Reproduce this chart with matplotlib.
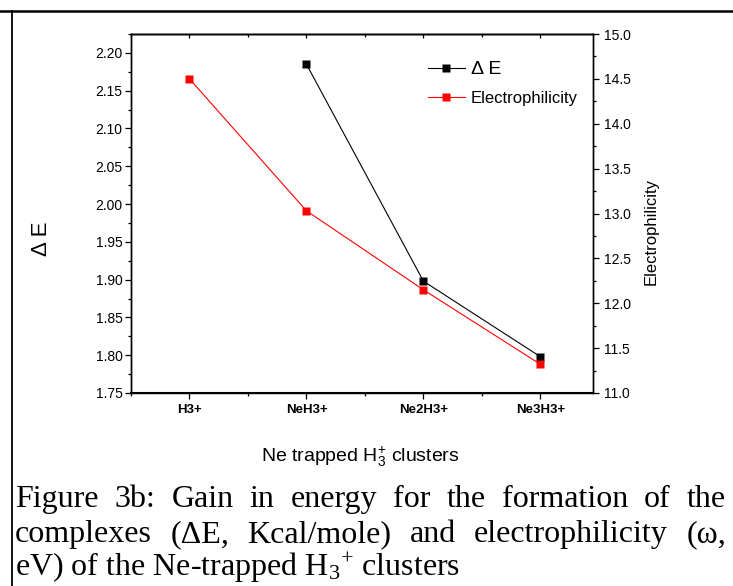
import numpy as np
import matplotlib
matplotlib.use('Agg')
import matplotlib.pyplot as plt
from matplotlib.lines import Line2D

plt.rcParams['font.family'] = ['Liberation Sans', 'DejaVu Sans']
plt.rcParams['mathtext.default'] = 'regular'

categories = ['H3+', 'NeH3+', 'Ne2H3+', 'Ne3H3+']
delta_e_cats = ['NeH3+', 'Ne2H3+', 'Ne3H3+']
delta_e = [2.185, 1.898, 1.798]
electro = [14.50, 13.03, 12.15, 11.32]

caption_lines = [
    "Figure 3b: Gain in energy for the formation of the",
    "complexes (\u0394E, Kcal/mole) and electrophilicity (\u03c9,",
    "eV) of the Ne-trapped H$_{3}$$^{+}$ clusters",
]

W, H = 733, 586
fig = plt.figure(figsize=(W / 100, H / 100), dpi=100)

# plot area in pixels
left, right, top, bottom = 131, 593, 34, 393
ax = fig.add_axes([left / W, 1 - bottom / H, (right - left) / W, (bottom - top) / H])
ax2 = ax.twinx()

xpos = np.arange(1, len(categories) + 1)
de_x = [categories.index(c) + 1 for c in delta_e_cats]

ax.plot(de_x, delta_e, color='black', lw=0.8, marker='s', ms=6, mec='none')
ax2.plot(xpos, electro, color='red', lw=0.8, marker='s', ms=6, mec='none')

ax.set_xlim(0.5, 4.45)
ax.set_ylim(1.75, 2.225)
ax2.set_ylim(11.0, 15.0)

ax.set_xticks(xpos)
ax.set_xticklabels(categories, fontweight='bold', fontsize=9.5)
ax.set_xticks(xpos - 0.5, minor=True)
ax.set_yticks(np.arange(1.75, 2.201, 0.05))
ax.set_yticklabels(['%.2f' % v for v in np.arange(1.75, 2.201, 0.05)], fontsize=10)
ax.set_yticks(np.arange(1.775, 2.225, 0.05), minor=True)
ax2.set_yticks(np.arange(11.0, 15.01, 0.5))
ax2.set_yticklabels(['%.1f' % v for v in np.arange(11.0, 15.01, 0.5)], fontsize=10)
ax2.set_yticks(np.arange(11.25, 15.0, 0.5), minor=True)

ax.tick_params(axis='both', which='major', direction='out', length=4, width=0.9, pad=2)
ax.tick_params(axis='x', which='major', pad=4)
ax.tick_params(axis='both', which='minor', direction='out', length=2.5, width=0.9)
ax2.tick_params(axis='y', which='major', direction='out', length=4, width=0.9, pad=4)
ax2.tick_params(axis='y', which='minor', direction='out', length=2.5, width=0.9)

topax = ax.secondary_xaxis('top')
topax.set_xticks(xpos)
topax.set_xticks(xpos - 0.5, minor=True)
topax.set_xticklabels([])
topax.tick_params(which='major', direction='in', length=3, width=0.9)
topax.tick_params(which='minor', direction='in', length=2, width=0.9)

for a in (ax, ax2):
    for s in a.spines.values():
        s.set_linewidth(1.0)
topax.spines['top'].set_linewidth(1.0)
ax.spines['bottom'].set_linewidth(1.5)

ax.set_ylabel('\u0394 E', fontsize=16)
ax.yaxis.set_label_coords(-0.172, 0.43)
ax2.set_ylabel('Electrophilicity', fontsize=12)
ax2.yaxis.set_label_coords(1.11, 0.45)
ax.set_xlabel('Ne trapped H$_{3}^{+}$ clusters', fontsize=14)
ax.xaxis.set_label_coords(0.496, -0.145)

handles = [
    Line2D([], [], color='black', lw=0.8, marker='s', ms=6, mec='none'),
    Line2D([], [], color='red', lw=0.8, marker='s', ms=6, mec='none'),
]
leg = ax.legend(handles, ['\u0394 E', 'Electrophilicity'], loc='upper left',
                bbox_to_anchor=(0.643, 0.925), frameon=False, fontsize=12,
                borderpad=0, borderaxespad=0,
                handlelength=2.2, handletextpad=0.35, labelspacing=0.8)
leg.get_texts()[0].set_fontsize(14)

# page border lines
fig.add_artist(Line2D([0, 1], [1 - 11 / H, 1 - 11 / H], color='black', lw=1.8))
fig.add_artist(Line2D([12 / W, 12 / W], [0, 1 - 11 / H], color='black', lw=1.3))

# justified caption
renderer = fig.canvas.get_renderer()
x0, x1 = 15, 726
baselines = [507, 542, 576]
cap_size = 23
for i, line in enumerate(caption_lines):
    y = 1 - baselines[i] / H
    if i == len(caption_lines) - 1:
        fig.text(x0 / W, y, line, family='Liberation Serif', fontsize=cap_size,
                 va='baseline', ha='left')
        continue
    words = line.split(' ')
    texts = [fig.text(0, y, w, family='Liberation Serif', fontsize=cap_size,
                      va='baseline', ha='left') for w in words]
    widths = [t.get_window_extent(renderer).width for t in texts]
    gap = (x1 - x0 - sum(widths)) / (len(words) - 1)
    xcur = x0
    for t, wd in zip(texts, widths):
        t.set_x(xcur / W)
        xcur += wd + gap

fig.savefig('out.png', dpi=100)
